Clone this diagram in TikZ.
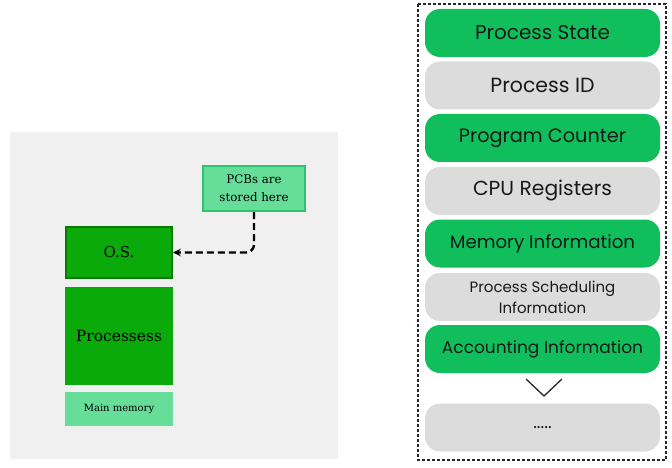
\documentclass[tikz,border=0pt]{standalone}
\usepackage{fontspec}
\setmainfont{DejaVu Serif}
\newfontfamily\pillfont{Poppins}
\usetikzlibrary{positioning}

\definecolor{pcbgreen}{HTML}{10BF5C}
\definecolor{pcbgray}{HTML}{DCDCDC}
\definecolor{osgreen}{HTML}{0BAA0B}
\definecolor{osedge}{HTML}{087A08}
\definecolor{lightgreen}{HTML}{66DD99}
\definecolor{lightedge}{HTML}{2CC46C}
\definecolor{panelgray}{HTML}{F0F0F0}

\newcommand{\pillsize}[1]{\pillfont\fontsize{#1}{21}\selectfont}

\begin{document}
\begin{tikzpicture}[x=1pt, y=-1pt,
        pill/.style={rectangle, rounded corners=15pt, inner sep=0pt, minimum width=235pt,
            minimum height=48pt, align=center, text=black!90, font=\pillsize{20}},
        greenpill/.style={pill, fill=pcbgreen},
        graypill/.style={pill, fill=pcbgray},
        memblock/.style={rectangle, inner sep=0pt, minimum width=108pt, align=center, text=black},
        note/.style={rectangle, draw=lightedge, line width=2pt, fill=lightgreen, inner sep=0pt,
            minimum width=102pt, minimum height=45pt, align=center, font=\fontsize{11.8}{18}\selectfont},
        paths/.style={->, >=stealth, line width=2.4pt, dash pattern=on 7pt off 4pt, rounded corners=8pt}
    ]
        \useasboundingbox (0,0) rectangle (672,468);

        % Left panel: main memory
        \fill[panelgray] (10,132) rectangle (338,459);

        \node[memblock, draw=osedge, line width=2pt, fill=osgreen, minimum width=106pt, minimum height=51pt,
            font=\fontsize{15}{18}\selectfont] (os) at (119,252.5) {O.S.};
        \node[memblock, fill=osgreen, minimum height=98pt, font=\fontsize{15.5}{18}\selectfont] (procs) at (119,336) {Processess};
        \node[memblock, fill=lightgreen, minimum height=34pt, font=\fontsize{10}{12}\selectfont] (mainmem) at (119,409) {Main memory};
        \node[note] (pcbs) at (254,188.5) {PCBs are\\stored here};

        % Paths
        \draw[paths] (pcbs.south) |- (os.east);

        % Right panel: process control block
        \draw[densely dashed, line width=1.2pt, black!85] (418,4) rectangle (666,460);

        \node[greenpill] (state) at (542.5,33) {Process State};
        \node[graypill, font=\pillsize{20.5}] (pid) at (542.5,85.5) {Process ID};
        \node[greenpill, font=\pillsize{19.3}] (counter) at (542.5,138) {Program Counter};
        \node[graypill, font=\pillsize{20.3}] (regs) at (542.5,191) {CPU Registers};
        \node[greenpill, font=\pillsize{18.2}] (meminfo) at (542.5,243.5) {Memory Information};
        \node[graypill, font=\pillsize{15}] (sched) at (542.5,297) {Process Scheduling\\Information};
        \node[greenpill, font=\pillsize{17}] (acct) at (542.5,349) {Accounting Information};
        \node[graypill, font=\pillsize{17.5}] (more) at (542.5,427.5) {.....};

        % Chevron
        \draw[line width=1.3pt, black!85] (526,379) -- (544,396) -- (562,379);
    \end{tikzpicture}
\end{document}
